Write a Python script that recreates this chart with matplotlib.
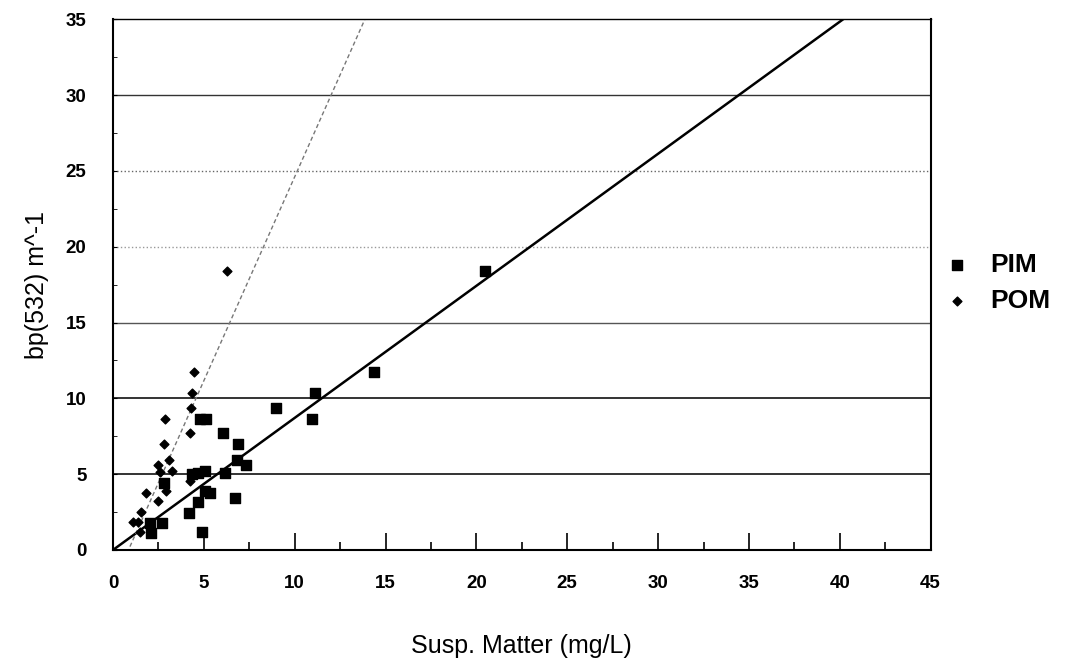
import numpy as np
import matplotlib.pyplot as plt
from matplotlib.ticker import MultipleLocator

# PIM (particulate inorganic matter)
pim_x = [8.96, 4.8, 5.1, 6.03, 6.88, 6.85, 7.3, 6.19, 5.05, 4.35, 4.7, 2.78,
         5.04, 5.33, 4.68, 6.69, 4.2, 2.05, 2.69, 2.1, 4.9, 10.95, 11.1, 14.36, 20.5]
pim_y = [9.39, 8.62, 8.62, 7.7, 7.02, 5.92, 5.59, 5.05, 5.22, 5.0, 5.1, 4.41,
         3.9, 3.75, 3.14, 3.42, 2.41, 1.8, 1.76, 1.1, 1.21, 8.62, 10.33, 11.76, 18.4]

# POM (particulate organic matter)
pom_x = [4.48, 4.36, 4.3, 2.88, 4.22, 2.78, 3.06, 2.47, 3.24, 2.6, 4.26, 2.93,
         1.82, 2.5, 1.53, 1.09, 1.35, 1.49, 6.3]
pom_y = [11.76, 10.37, 9.39, 8.66, 7.74, 7.02, 5.92, 5.59, 5.22, 5.11, 4.52, 3.9,
         3.75, 3.25, 2.48, 1.82, 1.85, 1.16, 18.4]

# linear fits (slope, intercept)
pim_fit = (0.871, 0.0)
pom_fit = (2.69, -2.29)

xticks = [0, 5, 10, 15, 20, 25, 30, 35, 40, 45]
yticks = [0, 5, 10, 15, 20, 25, 30, 35]

plt.rcParams['font.family'] = ['Liberation Sans', 'DejaVu Sans']

fig = plt.figure(figsize=(10.66, 6.65), dpi=100)
ax = fig.add_axes([0.106, 0.173, 0.767, 0.798])

# gridlines (scanned look: some darker, some fainter)
grid_styles = {5: ('#111111', '-', 1.2), 10: ('#111111', '-', 1.2),
               15: ('#555555', '-', 1.0), 20: ('#999999', ':', 1.0),
               25: ('#666666', ':', 1.0), 30: ('#333333', '-', 1.0)}
for yv, (c, ls, lw) in grid_styles.items():
    ax.axhline(yv, color=c, ls=ls, lw=lw, zorder=1)

xx = np.linspace(0, 45, 400)
ax.plot(xx, pim_fit[0] * xx + pim_fit[1], color='black', lw=1.8, zorder=2)
ax.plot(xx, pom_fit[0] * xx + pom_fit[1], color='#777777', lw=1.0,
        ls=(0, (3, 2)), zorder=2)

ax.scatter(pim_x, pim_y, marker='s', s=42, color='black', zorder=3, label='PIM')
ax.scatter(pom_x, pom_y, marker='D', s=20, color='black', zorder=3, label='POM')

ax.set_xlim(0, 45)
ax.set_ylim(0, 35)
ax.set_xticks(xticks)
ax.set_yticks(yticks)
ax.xaxis.set_minor_locator(MultipleLocator(2.5))
ax.yaxis.set_minor_locator(MultipleLocator(2.5))
ax.tick_params(axis='x', which='major', direction='in', length=12, width=1.2,
               pad=18, labelsize=13.5)
ax.tick_params(axis='x', which='minor', direction='in', length=6, width=1.2)
ax.tick_params(axis='y', which='major', direction='in', length=3, pad=19, labelsize=13.5)
ax.tick_params(axis='y', which='minor', direction='in', length=3)
for lab in ax.get_xticklabels() + ax.get_yticklabels():
    lab.set_fontweight('bold')

for sp in ax.spines.values():
    sp.set_linewidth(1.5)
    sp.set_color('black')
ax.spines['top'].set_linewidth(1.0)

ax.set_xlabel('Susp. Matter (mg/L)', fontsize=18, labelpad=30)
ax.set_ylabel('bp(532) m^-1', fontsize=18, labelpad=12)

handles, labels = ax.get_legend_handles_labels()
fig.legend(handles, labels, loc='center left', bbox_to_anchor=(0.8855, 0.575),
           frameon=False, prop={'size': 19, 'weight': 'bold'},
           handlelength=1.0, handletextpad=0.77, borderpad=0,
           borderaxespad=0, labelspacing=0.45)

fig.savefig('out.png', dpi=100)
